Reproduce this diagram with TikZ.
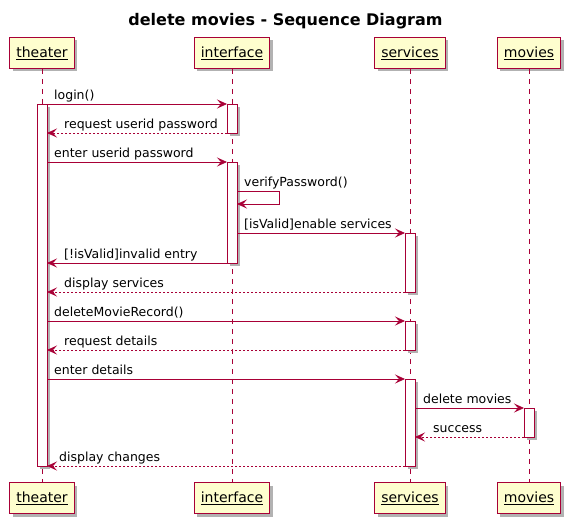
\documentclass[tikz,border=0pt]{standalone}
\usepackage{fontspec}
\setmainfont{DejaVu Sans}
\usetikzlibrary{arrows.meta,shadows}
\definecolor{umlred}{HTML}{A80036}
\definecolor{umlfill}{HTML}{FEFECE}

\begin{document}
\begin{tikzpicture}[x=1pt,y=-1pt,
  part/.style={draw=umlred,fill=umlfill,line width=0.9pt,minimum height=31pt,inner xsep=6.5pt,
    font=\fontsize{14}{16}\selectfont,
    drop shadow={shadow xshift=3pt,shadow yshift=-3pt,fill=black!30,opacity=1}},
  bar/.style={draw=umlred,fill=white,line width=0.9pt,
    drop shadow={shadow xshift=3pt,shadow yshift=-3pt,fill=black!30,opacity=1}},
  lifeline/.style={draw=umlred,line width=0.8pt,dash pattern=on 5pt off 5pt},
  msg/.style={draw=umlred,line width=0.8pt,-{Stealth[length=10pt,width=9pt,inset=4pt]}},
  ret/.style={msg,dash pattern=on 2pt off 2pt},
  lbl/.style={anchor=base west,inner sep=0pt,font=\fontsize{12.5}{14}\selectfont}]
\useasboundingbox (0,0) rectangle (569,524);

\node[anchor=base,font=\bfseries\fontsize{16}{18}\selectfont] (title) at (285.5,26) {delete movies - Sequence Diagram};

% participants
\node[part] at (42,53) (th1) {\underline{theater}};
\node[part] at (232,53) (if1) {\underline{interface}};
\node[part] at (410,53) (sv1) {\underline{services}};
\node[part] at (529,53) (mv1) {\underline{movies}};
\node[part] at (42,498) (th2) {\underline{theater}};
\node[part] at (232,498) (if2) {\underline{interface}};
\node[part] at (410,498) (sv2) {\underline{services}};
\node[part] at (529,498) (mv2) {\underline{movies}};

\draw[lifeline] (th1) -- (th2);
\draw[lifeline] (if1) -- (if2);
\draw[lifeline] (sv1) -- (sv2);
\draw[lifeline] (mv1) -- (mv2);

% activations
\draw[bar] (37,104) rectangle (47,466);
\draw[bar] (227,104) rectangle (237,133);
\draw[bar] (227,162) rectangle (237,263);
\draw[bar] (405,233) rectangle (415,292);
\draw[bar] (405,321) rectangle (415,350);
\draw[bar] (405,379) rectangle (415,466);
\draw[bar] (524,408) rectangle (534,437);

% message ends
\coordinate (m1a) at (47,104);  \coordinate (m1b) at (227,104);
\coordinate (m2a) at (227,133); \coordinate (m2b) at (47,133);
\coordinate (m3a) at (47,162);  \coordinate (m3b) at (227,162);
\coordinate (m4a) at (237,191); \coordinate (m4b) at (279,191);
\coordinate (m4c) at (279,204); \coordinate (m4d) at (237,204);
\coordinate (m5a) at (237,233); \coordinate (m5b) at (405,233);
\coordinate (m6a) at (227,263); \coordinate (m6b) at (47,263);
\coordinate (m7a) at (405,292); \coordinate (m7b) at (47,292);
\coordinate (m8a) at (47,321);  \coordinate (m8b) at (405,321);
\coordinate (m9a) at (405,350); \coordinate (m9b) at (47,350);
\coordinate (m10a) at (47,379); \coordinate (m10b) at (405,379);
\coordinate (m11a) at (415,408); \coordinate (m11b) at (524,408);
\coordinate (m12a) at (524,437); \coordinate (m12b) at (415,437);
\coordinate (m13a) at (405,466); \coordinate (m13b) at (47,466);

\draw[msg] (m1a) -- (m1b);
\draw[ret] (m2a) -- (m2b);
\draw[msg] (m3a) -- (m3b);
\draw[msg] (m4a) -- (m4b) -- (m4c) -- (m4d);
\draw[msg] (m5a) -- (m5b);
\draw[msg] (m6a) -- (m6b);
\draw[ret] (m7a) -- (m7b);
\draw[msg] (m8a) -- (m8b);
\draw[ret] (m9a) -- (m9b);
\draw[msg] (m10a) -- (m10b);
\draw[msg] (m11a) -- (m11b);
\draw[ret] (m12a) -- (m12b);
\draw[ret] (m13a) -- (m13b);

% labels
\node[lbl] at (54,99.5) (l1) {login()};
\node[lbl] at (64,128.5) (l2) {request userid password};
\node[lbl] at (54,157.5) (l3) {enter userid password};
\node[lbl] at (244,186.5) (l4) {verifyPassword()};
\node[lbl] at (244,228.5) (l5) {[isValid]enable services};
\node[lbl] at (64,258.5) (l6) {[!isValid]invalid entry};
\node[lbl] at (64,287.5) (l7) {display services};
\node[lbl] at (54,316.5) (l8) {deleteMovieRecord()};
\node[lbl] at (64,345.5) (l9) {request details};
\node[lbl] at (54,374.5) (l10) {enter details};
\node[lbl] at (423,403.5) (l11) {delete movies};
\node[lbl] at (433,432.5) (l12) {success};
\node[lbl] at (59,461.5) (l13) {display changes};
\end{tikzpicture}
\end{document}
